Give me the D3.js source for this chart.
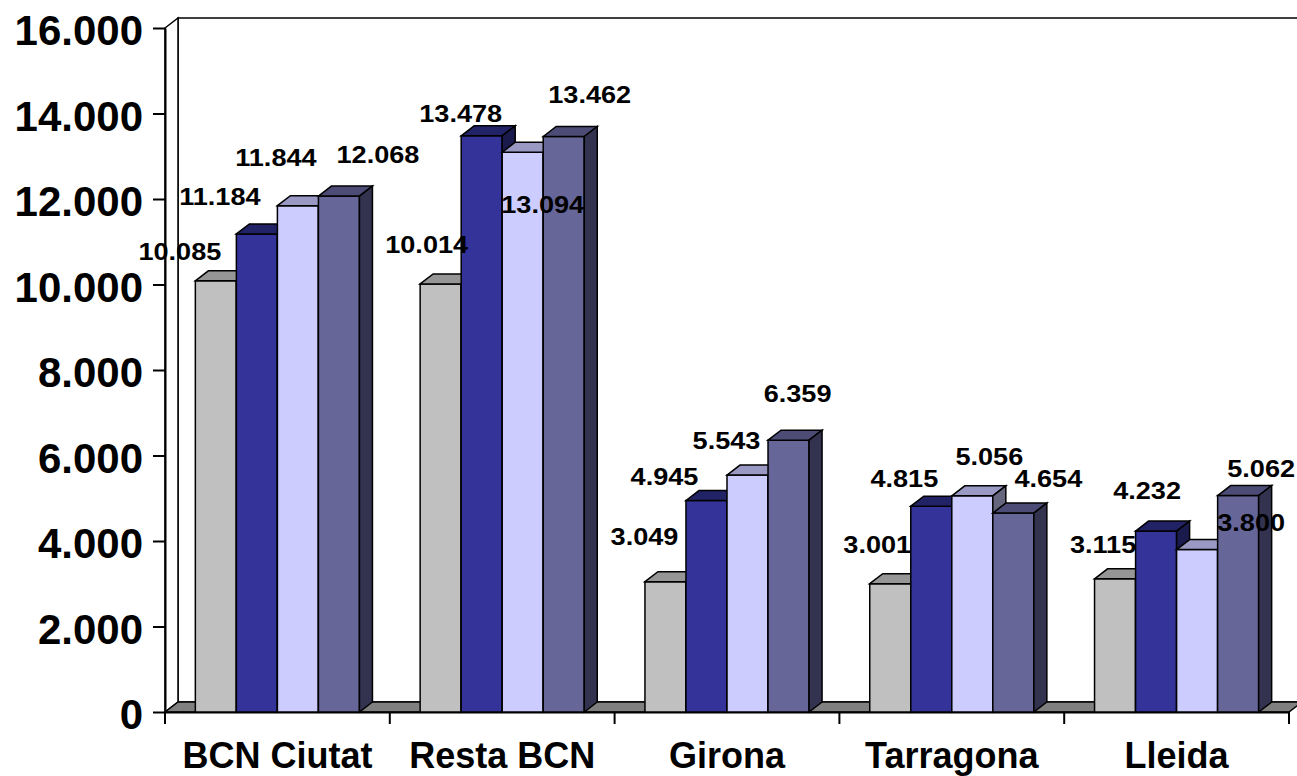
<!DOCTYPE html>
<html>
<head>
<meta charset="utf-8">
<script src="https://cdn.jsdelivr.net/npm/d3@7"></script>
<style>
  html, body { margin: 0; padding: 0; background: #fff; }
  svg { display: block; font-family: "Liberation Sans", Arial, sans-serif; }
</style>
</head>
<body>
<svg id="chart" width="1297" height="776"></svg>
<script>
// ---- data ----
const categories = ["BCN Ciutat", "Resta BCN", "Girona", "Tarragona", "Lleida"];
const seriesNames = ["Sèrie 1", "Sèrie 2", "Sèrie 3", "Sèrie 4"];
const serie1 = [10085, 10014, 3049, 3001, 3115];
const serie2 = [11184, 13478, 4945, 4815, 4232];
const serie3 = [11844, 13094, 5543, 5056, 3800];
const serie4 = [12068, 13462, 6359, 4654, 5062];
const yTicks = [0, 2000, 4000, 6000, 8000, 10000, 12000, 14000, 16000];

// ---- style / layout (label nudges relative to bar top centre) ----
const frontColors = ["#C0C0C0", "#333399", "#CCCCFF", "#666699"];
const topColors   = ["#969696", "#222266", "#9999C4", "#4C4C77"];
const sideColors  = ["#606060", "#1A1A4D", "#66667F", "#333350"];
const labelNudge = [
  [[-36,-21],[-14,-31],[-21,-37],[-13,-31],[-12,-26]],
  [[-37,-29],[-21,-14],[-42,-16],[-27,-19],[-9,-32]],
  [[-22,-40],[20,61],[-21,-26],[17,-31],[54,-19]],
  [[39,-33],[26,-33],[9,-38],[35,-26],[23,-19]]
];

(function () {
const allSeries = [serie1, serie2, serie3, serie4];
const svg = d3.select("#chart");
const fmt = d3.formatLocale({decimal: ",", thousands: ".", grouping: [3], currency: ["", ""]}).format(",d");

const pL = 165, pR = 1289, pT = 28, pB = 712;
const DX = 13, DY = 10;   // depth offset for walls/floor
const BDX = 13, BDY = 10; // depth offset for bars

const x0 = d3.scaleBand().domain(categories).range([pL, pR]).padding(0);
const x1 = d3.scaleBand().domain(seriesNames)
  .range([x0.bandwidth() * 0.135, x0.bandwidth() * 0.865]).padding(0);
const y = d3.scaleLinear().domain([0, 16000]).range([pB, pT]);

// back wall
svg.append("polygon")
  .attr("points", [[pL + DX, pT - DY], [1320, pT - DY], [1320, pB - DY], [pL + DX, pB - DY]].join(" "))
  .attr("fill", "#fff").attr("stroke", "#000").attr("stroke-width", 1.5);
// left side wall
svg.append("polygon")
  .attr("points", [[pL, pT], [pL + DX, pT - DY], [pL + DX, pB - DY], [pL, pB]].join(" "))
  .attr("fill", "#fff").attr("stroke", "#000").attr("stroke-width", 1.5);
// floor
svg.append("polygon")
  .attr("points", [[pL, pB], [pL + DX, pB - DY], [pR + DX, pB - DY], [pR, pB]].join(" "))
  .attr("fill", "#808080").attr("stroke", "#000").attr("stroke-width", 1.5);

// y axis
const yAxis = svg.append("g")
  .attr("transform", `translate(${pL},0)`)
  .call(d3.axisLeft(y).tickValues(yTicks).tickFormat(fmt).tickSize(12).tickSizeOuter(0).tickPadding(10));
yAxis.select(".domain").attr("stroke", "#000").attr("stroke-width", 2);
yAxis.selectAll(".tick line").attr("stroke", "#000").attr("stroke-width", 2);
yAxis.selectAll(".tick text")
  .attr("font-size", 42).attr("font-weight", "bold").attr("fill", "#000")
  .attr("font-family", "'Liberation Sans', Arial, sans-serif").attr("dy", "0.4em");

// x axis
const xAxis = svg.append("g")
  .attr("transform", `translate(0,${pB})`)
  .call(d3.axisBottom(x0).tickSize(0).tickPadding(30));
xAxis.select(".domain").attr("stroke", "#000").attr("stroke-width", 2);
xAxis.selectAll(".tick text")
  .attr("font-size", 36).attr("font-weight", "bold").attr("fill", "#000")
  .attr("font-family", "'Liberation Sans', Arial, sans-serif");
const boundaries = categories.map(c => x0(c)).concat([x0(categories[categories.length - 1]) + x0.bandwidth()]);
svg.append("g").selectAll("line").data(boundaries).join("line")
  .attr("x1", d => d).attr("x2", d => d)
  .attr("y1", pB).attr("y2", pB + 12)
  .attr("stroke", "#000").attr("stroke-width", 2);

// bars (painted left to right)
const barsG = svg.append("g");
categories.forEach((cat, ci) => {
  seriesNames.forEach((sn, si) => {
    const v = allSeries[si][ci];
    const xa = x0(cat) + x1(sn), xb = xa + x1.bandwidth();
    const yt = y(v), yb = y(0);
    const g = barsG.append("g");
    g.append("polygon")
      .attr("points", [[xa, yt], [xb, yt], [xb, yb], [xa, yb]].join(" "))
      .attr("fill", frontColors[si]).attr("stroke", "#000").attr("stroke-width", 1.5);
    g.append("polygon")
      .attr("points", [[xa, yt], [xa + BDX, yt - BDY], [xb + BDX, yt - BDY], [xb, yt]].join(" "))
      .attr("fill", topColors[si]).attr("stroke", "#000").attr("stroke-width", 1.5);
    g.append("polygon")
      .attr("points", [[xb, yt], [xb + BDX, yt - BDY], [xb + BDX, yb - BDY], [xb, yb]].join(" "))
      .attr("fill", sideColors[si]).attr("stroke", "#000").attr("stroke-width", 1.5);
  });
});

// data labels
const labelsG = svg.append("g");
categories.forEach((cat, ci) => {
  seriesNames.forEach((sn, si) => {
    const v = allSeries[si][ci];
    const cx = x0(cat) + x1(sn) + x1.bandwidth() / 2 + labelNudge[si][ci][0];
    const cy = y(v) + labelNudge[si][ci][1];
    labelsG.append("text")
      .attr("transform", `translate(${cx},${cy}) scale(1.13,1)`)
      .attr("text-anchor", "middle")
      .attr("font-size", 24).attr("font-weight", "bold").attr("fill", "#000")
      .text(fmt(v));
  });
});
})();
</script>
</body>
</html>
